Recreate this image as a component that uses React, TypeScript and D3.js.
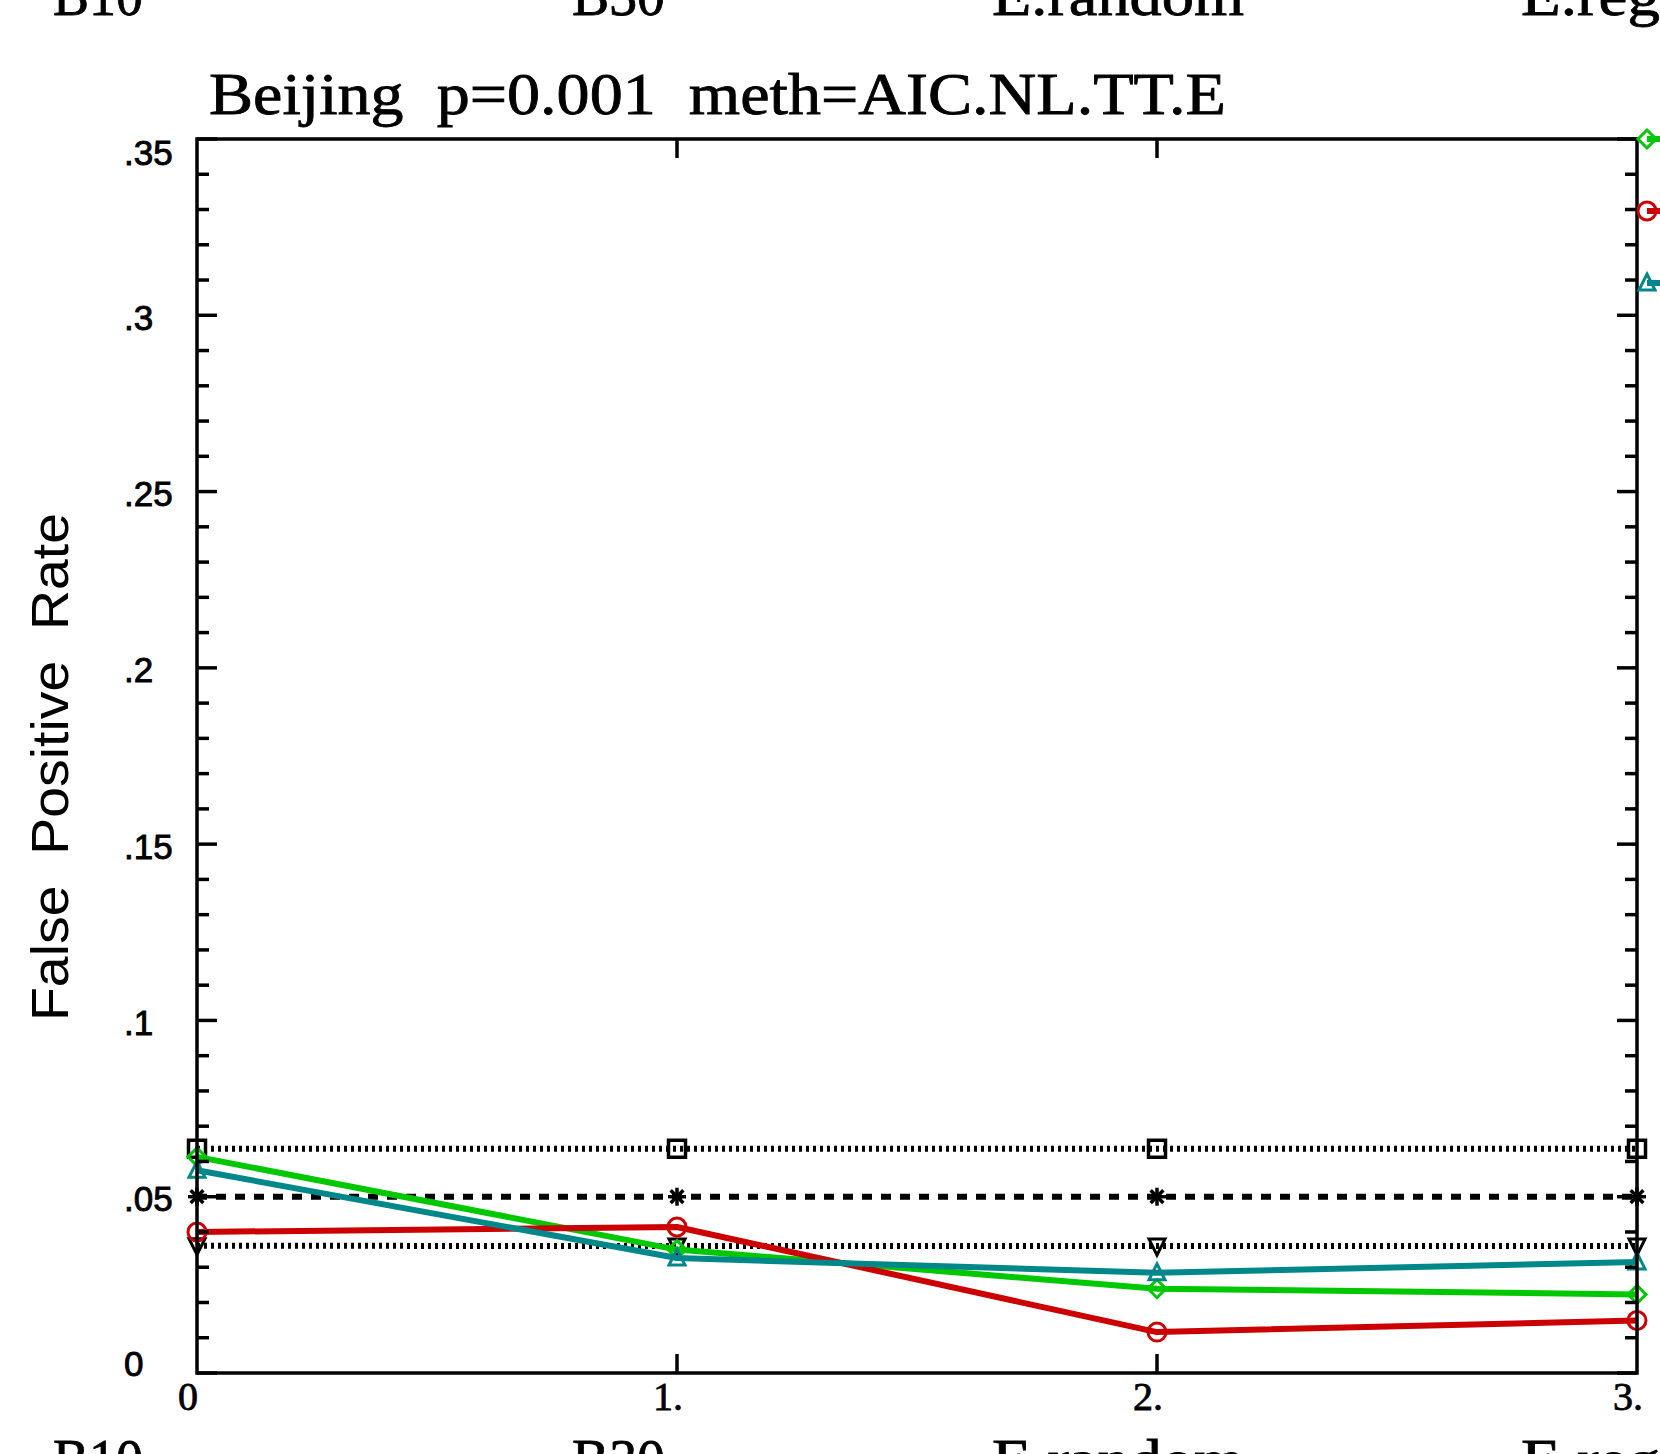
import React from 'react';
import * as d3 from 'd3';

// ---- data ----
const categories = [0, 1, 2, 3];
const xTickLabels = ['0', '1.', '2.', '3.'];
const yTicks = [0, 0.05, 0.1, 0.15, 0.2, 0.25, 0.3, 0.35];
const yTickLabels = ['0', '.05', '.1', '.15', '.2', '.25', '.3', '.35'];
const yMinorTicks = d3.range(0, 36).map((i) => i / 100);
const panelLabels = ['B10', 'B30', 'E.random', 'E.regular'];
const titleText = 'Beijing  p=0.001  meth=AIC.NL.TT.E';
const yTitle = 'False  Positive  Rate';

const refSquare = [0.0636, 0.0636, 0.0636, 0.0636];
const refStar = [0.05, 0.05, 0.05, 0.05];
const refDown = [0.0361, 0.036, 0.036, 0.036];
const greenSeries = [0.0613, 0.035, 0.0239, 0.0223];
const redSeries = [0.04, 0.0414, 0.0116, 0.0149];
const tealSeries = [0.0575, 0.0326, 0.0284, 0.0315];

// ---- layout ----
const W = 1660;
const H = 1454;
const L = 197;
const R = 1637;
const T = 139;
const B = 1373;
const panelLabelX = [53, 572, 992, 1521];
const panelLabelW = [90, 93, 252, 240];

type Sym = 'square' | 'star' | 'down' | 'diamond' | 'circle' | 'up';

const seriesDefs: { values: number[]; color: string; dash?: string; width: number; sym: Sym }[] = [
  { values: refSquare, color: '#000', dash: '3 4', width: 6, sym: 'square' },
  { values: refStar, color: '#000', dash: '10 9', width: 6, sym: 'star' },
  { values: refDown, color: '#000', dash: '3 4', width: 6, sym: 'down' },
  { values: greenSeries, color: '#00c800', width: 6, sym: 'diamond' },
  { values: redSeries, color: '#cc0000', width: 6, sym: 'circle' },
  { values: tealSeries, color: '#00878a', width: 6, sym: 'up' },
];

function Marker({ sym, cx, cy, color }: { sym: Sym; cx: number; cy: number; color: string }) {
  const sw = 3;
  switch (sym) {
    case 'square':
      return <rect x={cx - 8.5} y={cy - 8.5} width={17} height={17} fill="none" stroke={color} strokeWidth={3.5} />;
    case 'star': {
      const r = 9;
      const d = r * 0.707;
      return (
        <g stroke={color} strokeWidth={3.5}>
          <line x1={cx - r} y1={cy} x2={cx + r} y2={cy} />
          <line x1={cx} y1={cy - r} x2={cx} y2={cy + r} />
          <line x1={cx - d} y1={cy - d} x2={cx + d} y2={cy + d} />
          <line x1={cx - d} y1={cy + d} x2={cx + d} y2={cy - d} />
        </g>
      );
    }
    case 'down':
      return (
        <polygon
          points={`${cx - 8},${cy - 7} ${cx + 8},${cy - 7} ${cx},${cy + 9}`}
          fill="none"
          stroke={color}
          strokeWidth={sw}
        />
      );
    case 'up':
      return (
        <polygon
          points={`${cx - 8},${cy + 7} ${cx + 8},${cy + 7} ${cx},${cy - 9}`}
          fill="none"
          stroke={color}
          strokeWidth={sw}
        />
      );
    case 'diamond':
      return (
        <polygon
          points={`${cx},${cy - 9} ${cx + 9},${cy} ${cx},${cy + 9} ${cx - 9},${cy}`}
          fill="none"
          stroke={color}
          strokeWidth={sw}
        />
      );
    case 'circle':
      return <circle cx={cx} cy={cy} r={9} fill="none" stroke={color} strokeWidth={sw} />;
  }
  return null;
}

export default function App() {
  const x = d3.scaleLinear().domain([0, 3]).range([L, R]);
  const y = d3.scaleLinear().domain([0, 0.35]).range([B, T]);
  const line = d3
    .line<number>()
    .x((_, i) => x(categories[i]))
    .y((d) => y(d));

  const serif = "'Liberation Serif', 'DejaVu Serif', serif";
  const sans = "'Liberation Sans', Arial, sans-serif";

  const legend = seriesDefs.slice(3);

  return (
    <svg
      width={W}
      height={H}
      viewBox={`0 0 ${W} ${H}`}
      style={{ position: 'absolute', left: 0, top: 0, background: '#fff' }}
    >
      <rect x={0} y={0} width={W} height={H} fill="#fff" />

      {/* neighbouring panel labels (cut off) */}
      {panelLabels.map((t, i) => (
        <text
          key={'tp' + i}
          x={panelLabelX[i]}
          y={15}
          fontFamily={serif}
          fontSize={58}
          textLength={panelLabelW[i]}
          lengthAdjust="spacingAndGlyphs"
          fill="#000"
          stroke="#000"
          strokeWidth={0.8}
        >
          {t}
        </text>
      ))}
      {panelLabels.map((t, i) => (
        <text
          key={'bp' + i}
          x={panelLabelX[i]}
          y={1479}
          fontFamily={serif}
          fontSize={58}
          textLength={panelLabelW[i]}
          lengthAdjust="spacingAndGlyphs"
          fill="#000"
          stroke="#000"
          strokeWidth={0.8}
        >
          {t}
        </text>
      ))}

      {/* title */}
      <text
        x={209}
        y={114}
        fontFamily={serif}
        fontSize={60}
        textLength={1017}
        lengthAdjust="spacingAndGlyphs"
        fill="#000"
        stroke="#000"
        strokeWidth={0.8}
        style={{ whiteSpace: 'pre' }}
      >
        {titleText}
      </text>

      {/* y axis title */}
      <text
        transform={`translate(68, 767) rotate(-90)`}
        textAnchor="middle"
        fontFamily={sans}
        fontSize={52}
        textLength={508}
        lengthAdjust="spacingAndGlyphs"
        fill="#000"
        style={{ whiteSpace: 'pre' }}
      >
        {yTitle}
      </text>

      {/* series */}
      {seriesDefs.map((s, si) => (
        <g key={'s' + si}>
          <path
            d={line(s.values) || ''}
            fill="none"
            stroke={s.color}
            strokeWidth={s.width}
            strokeDasharray={s.dash}
            strokeLinejoin="round"
          />
          {s.values.map((v, i) => (
            <Marker key={i} sym={s.sym} cx={x(categories[i])} cy={y(v)} color={s.color} />
          ))}
        </g>
      ))}

      {/* axes box */}
      <rect x={L} y={T} width={R - L} height={B - T} fill="none" stroke="#000" strokeWidth={3.5} />

      {/* y minor & major ticks, left and right */}
      {yMinorTicks.map((v, i) => {
        const isMajor = i % 5 === 0;
        const len = isMajor ? 20 : 12;
        const yy = y(v);
        return (
          <g key={'yt' + i} stroke="#000" strokeWidth={3.5}>
            <line x1={L} y1={yy} x2={L + len} y2={yy} />
            <line x1={R} y1={yy} x2={R - len} y2={yy} />
          </g>
        );
      })}

      {/* x ticks, top and bottom */}
      {categories.slice(1, -1).map((c) => (
        <g key={'xt' + c} stroke="#000" strokeWidth={3.5}>
          <line x1={x(c)} y1={B} x2={x(c)} y2={B - 19} />
          <line x1={x(c)} y1={T} x2={x(c)} y2={T + 19} />
        </g>
      ))}

      {/* y tick labels */}
      {yTicks.map((v, i) => {
        let off = 2;
        if (i === yTicks.length - 1) off = 13;
        if (i === 0) off = -10;
        return (
          <text
            key={'yl' + i}
            x={124}
            y={y(v) + off}
            dominantBaseline="central"
            fontFamily={sans}
            fontSize={35}
            fill="#000"
            stroke="#000"
            strokeWidth={0.9}
          >
            {yTickLabels[i]}
          </text>
        );
      })}

      {/* x tick labels */}
      {categories.map((c, i) => (
        <text
          key={'xl' + i}
          x={x(c) - 9}
          y={1410}
          textAnchor="middle"
          fontFamily={serif}
          fontSize={40}
          fill="#000"
          stroke="#000"
          strokeWidth={0.8}
        >
          {xTickLabels[i]}
        </text>
      ))}

      {/* legend (cut off at right edge) */}
      {legend.map((s, i) => {
        const ly = T + i * 72;
        const lx = 1647;
        return (
          <g key={'lg' + i}>
            <line x1={lx} y1={ly} x2={lx + 60} y2={ly} stroke={s.color} strokeWidth={s.width} />
            <Marker sym={s.sym} cx={lx} cy={ly} color={s.color} />
          </g>
        );
      })}
    </svg>
  );
}
